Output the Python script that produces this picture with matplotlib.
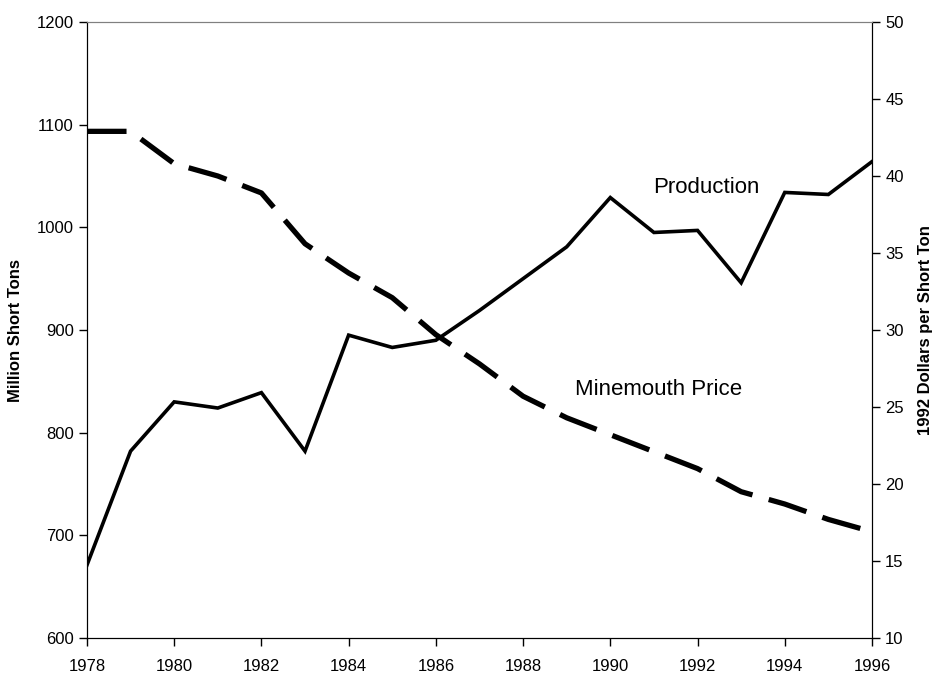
import matplotlib.pyplot as plt

plt.rcParams['font.family'] = ['Liberation Sans', 'DejaVu Sans']

years = list(range(1978, 1997))
production = [671, 782, 830, 824, 839, 782, 895, 883, 890, 919, 950, 981,
              1029, 995, 997, 946, 1034, 1032, 1064]
price = [42.9, 42.9, 40.8, 40.0, 38.9, 35.6, 33.7, 32.1, 29.7, 27.8, 25.7,
         24.3, 23.2, 22.1, 21.0, 19.5, 18.7, 17.7, 16.9]

fig = plt.figure(figsize=(9.33, 6.77), dpi=100)
ax = fig.add_axes([0.0932, 0.0576, 0.8414, 0.9099])
ax2 = ax.twinx()

ax.plot(years, production, color='black', lw=2.6, solid_joinstyle='miter')
ax2.plot(years, price, color='black', lw=3.8, dashes=(7.5, 3.2))

ax.set_xlim(1978, 1996)
ax.set_ylim(600, 1200)
ax2.set_ylim(10, 50)
ax.set_xticks(range(1978, 1997, 2))
ax.set_yticks(range(600, 1201, 100))
ax2.set_yticks(range(10, 51, 5))

for a in (ax, ax2):
    a.tick_params(labelsize=12, length=6, width=1, direction='out', color='black')
    a.spines['top'].set_color('#808080')
    a.spines['left'].set_color('black')
    a.spines['right'].set_color('black')
    a.spines['bottom'].set_color('black')
ax.tick_params(axis='x', pad=9)

ax.set_ylabel('Million Short Tons', fontsize=12, fontweight='bold', labelpad=10)
ax2.set_ylabel('1992 Dollars per Short Ton', fontsize=12, fontweight='bold', labelpad=10)

# labels placed next to their lines
ax.text(1992.2, 1039, 'Production', fontsize=16, ha='center', va='center')
ax.text(1991.1, 842, 'Minemouth Price', fontsize=16, ha='center', va='center')

fig.savefig('out.png', dpi=100)
